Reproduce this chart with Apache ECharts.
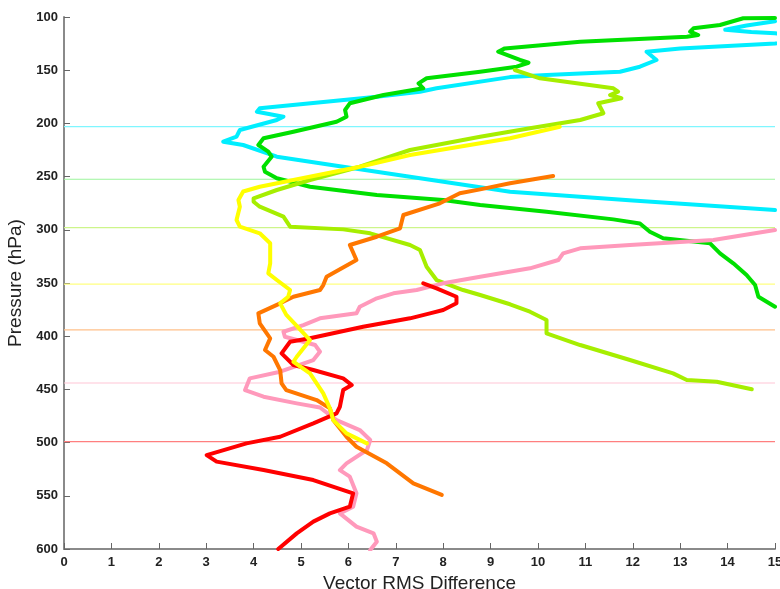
<!DOCTYPE html>
<html>
<head>
<meta charset="utf-8">
<script src="https://cdn.jsdelivr.net/npm/echarts@6/dist/echarts.min.js"></script>
<style>
html,body{margin:0;padding:0;background:#fff;}
#chart{width:780px;height:589px;}
</style>
</head>
<body>
<div id="chart"></div>
<script>
// Axis ticks
const xTicks = [0,1,2,3,4,5,6,7,8,9,10,11,12,13,14,15];
const yTicks = [100,150,200,250,300,350,400,450,500,550,600];

// Reference pressure levels (horizontal lines)
const refLevels = [203, 252.5, 298, 351, 394, 444, 499];

// Profiles: [vector RMS difference, pressure hPa]
const cyanData = [[15,104],[14.4,108],[13.95,112],[14.5,114],[15,115.3],[16,120],[15,124.8],[13.0,129.5],[12.29,132.6],[12.5,140.4],[12.15,146.7],[11.73,151.4],[10.18,154.5],[9.41,156.5],[7.86,167],[7.51,170.2],[6.6,174.9],[4.13,185.8],[4.07,189],[4.63,193.7],[4.49,196.8],[3.71,206.2],[3.64,212.5],[3.36,217.2],[3.78,220.3],[4.49,231.3],[5.89,240.7],[7.3,250.1],[8.71,259.5],[9.41,264.2],[12,272.5],[15,281.4]];
const greenData = [[15,101],[14.33,101.2],[13.84,107.5],[13.28,110.6],[13.21,113.8],[13.38,117],[13.14,118.5],[10.89,123.2],[9.3,129.5],[9.16,132.6],[9.62,140.4],[9.8,143],[9.55,146.7],[8.78,151.4],[7.65,157.6],[7.48,162.4],[7.58,167],[6.74,173.3],[6.03,181.1],[5.93,187.4],[5.96,193.7],[5.75,198.4],[4.84,207.8],[4.21,214],[4.1,220.3],[4.31,226.6],[4.38,231.3],[4.21,240.7],[4.24,245.4],[4.49,251.6],[5.19,259.5],[6.6,267.3],[8.0,272],[8.78,276.7],[10.18,283],[11.59,290.2],[12.15,294],[12.36,301.8],[12.64,308],[13.63,312.7],[13.84,322.1],[14.12,331.5],[14.4,342.5],[14.58,351.9],[14.65,362.9],[15,372.3]];
const yellowGreenData = [[9.51,149.8],[10.04,157.6],[11.59,167],[11.69,170.2],[11.52,173.3],[11.76,176.4],[11.27,181.1],[11.38,190.5],[10.89,196.8],[9.83,204.6],[8.78,212.5],[7.3,225],[6.24,240.7],[5.19,253.2],[4.49,262.6],[4.0,270.4],[4.0,273.6],[4.13,278.3],[4.63,287.7],[4.77,297.1],[5.89,299.6],[6.46,303.3],[7.3,314.3],[7.51,319],[7.65,334.7],[7.86,347.2],[8.42,356.6],[8.78,361.3],[9.41,370],[9.83,377],[10.18,384.8],[10.18,397.3],[10.89,408.3],[11.94,422.4],[12.85,434.9],[13.14,441.2],[13.77,442.8],[14.51,449.9]];
const yellowData = [[10.46,203.1],[9.41,214],[7.3,229.7],[6.24,240.7],[4.84,253.2],[4.13,259.5],[3.78,264],[3.68,272],[3.71,278.3],[3.64,290.8],[3.71,297.1],[4.13,303.3],[4.35,312.7],[4.35,331.5],[4.31,340.9],[4.49,347.2],[4.77,356.6],[4.73,362.9],[4.56,369.1],[4.69,380],[4.86,387.9],[5.19,403.6],[4.91,419.3],[4.84,424],[5.19,434.9],[5.47,453.7],[5.61,467.8],[5.68,478.8],[5.96,491.3],[6.39,500.7]];
const orangeData = [[10.32,249.4],[9.41,256.3],[8.78,262],[8.35,265.7],[7.93,275.1],[7.16,286.1],[7.09,298.6],[6.6,306.5],[6.03,314.3],[6.17,328.4],[5.54,344.1],[5.47,351.9],[5.4,356.6],[4.84,362.9],[4.56,369.1],[4.1,378.5],[4.13,387.9],[4.35,402],[4.24,413],[4.42,419.3],[4.56,431.8],[4.59,444.3],[4.69,450.6],[5.33,460],[5.61,467.8],[5.68,478.8],[5.96,494.5],[6.17,503.9],[6.81,519.5],[7.37,538.3],[7.97,549.2]];
const pinkData = [[15,300.2],[13.7,309.6],[11.94,314.3],[10.89,317.4],[10.53,322.1],[10.43,328.4],[9.83,336.2],[8.78,344.1],[8.0,350.3],[7.44,356.6],[6.95,359.7],[6.6,364.4],[6.24,372.3],[6.17,378.5],[5.4,383.2],[5.05,389.5],[4.63,395.8],[4.66,400.5],[5.3,408.3],[5.4,414.6],[5.26,422.4],[4.56,433.4],[3.92,439.6],[3.82,450.6],[4.21,456.9],[4.91,463.1],[5.4,467],[5.75,478.8],[6.24,488.2],[6.46,497.6],[6.39,507],[5.96,519.5],[5.82,525.8],[6.03,532],[6.17,547.7],[6.1,560.2],[5.82,566.5],[6.17,579],[6.53,585.3],[6.6,593.1],[6.46,601]];
const redData = [[7.58,350.3],[7.86,355],[8.28,362.9],[8.28,369.1],[8.0,375.4],[7.72,378.5],[7.3,383.2],[6.31,391.1],[5.19,402],[4.77,405.2],[4.59,416.1],[4.84,427.1],[5.26,431.8],[5.89,439.6],[6.07,445.9],[5.89,450.6],[5.82,466.3],[5.75,472.5],[5.26,481.9],[4.56,494.5],[3.85,500.7],[3.01,511.7],[3.22,517.9],[4.21,525.8],[5.26,535.2],[6.1,547.7],[6.03,560.2],[5.61,566.5],[5.26,574.3],[4.91,585.3],[4.52,600]];

const refColors = ['#7ff6ff','#9cf59c','#cdf58a','#ffff80','#ffc08a','#ffc6d6','#ff7f7f'];

const chart = echarts.init(document.getElementById('chart'), null, {renderer:'canvas'});

const refSeries = refLevels.map((p,i)=>({
  type:'line', data:[[xTicks[0],p],[xTicks[xTicks.length-1],p]],
  symbol:'none', silent:true, z:1,
  lineStyle:{color:refColors[i], width:1.2}
}));

function prof(data,color){
  return {type:'line', data:data, symbol:'none', clip:true, z:3,
    lineStyle:{color:color,width:4,cap:'round',join:'round'}};
}

chart.setOption({
  animation:false,
  backgroundColor:'#ffffff',
  grid:{left:64,right:5,top:17,bottom:40,containLabel:false,outerBoundsMode:'none'},
  xAxis:{
    type:'value', min:0, max:15, interval:1,
    name:'Vector RMS Difference', nameLocation:'middle', nameGap:22,
    nameTextStyle:{fontFamily:'Liberation Sans',fontSize:19,color:'#222'},
    axisLine:{show:true,lineStyle:{color:'#8a8a8a',width:2}},
    axisTick:{show:true,inside:true,length:6,lineStyle:{color:'#666',width:1}},
    axisLabel:{fontFamily:'Liberation Sans',fontSize:13,fontWeight:'bold',color:'#222',margin:7},
    splitLine:{show:false}
  },
  yAxis:{
    type:'value', min:100, max:600, interval:50, inverse:true,
    name:'Pressure (hPa)', nameLocation:'middle', nameGap:38, nameRotate:90,
    nameTextStyle:{fontFamily:'Liberation Sans',fontSize:19,color:'#222'},
    axisLine:{show:true,lineStyle:{color:'#8a8a8a',width:2}},
    axisTick:{show:true,inside:true,length:6,lineStyle:{color:'#666',width:1}},
    axisLabel:{fontFamily:'Liberation Sans',fontSize:13,fontWeight:'bold',color:'#222',margin:6},
    splitLine:{show:false}
  },
  series: refSeries.concat([
    prof(cyanData,'#00eeff'),
    prof(greenData,'#00e000'),
    prof(yellowGreenData,'#a6ee00'),
    prof(pinkData,'#ff99bb'),
    prof(redData,'#ff0000'),
    prof(orangeData,'#ff7700'),
    prof(yellowData,'#ffff00')
  ])
});
</script>
</body>
</html>
